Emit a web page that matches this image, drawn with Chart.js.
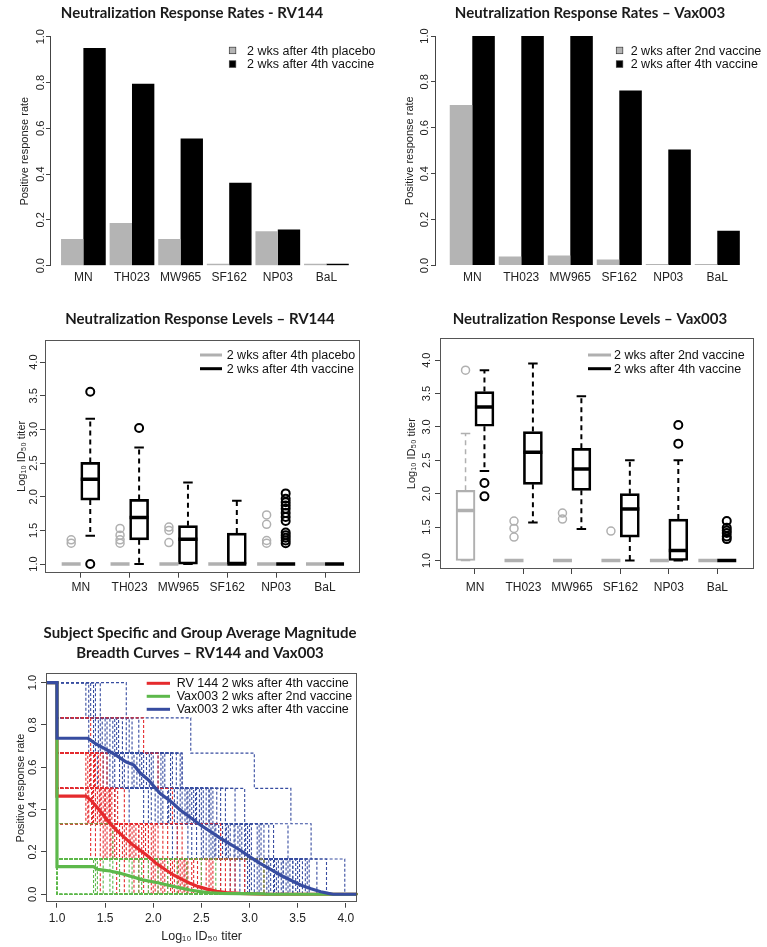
<!DOCTYPE html>
<html>
<head>
<meta charset="utf-8">
<title>Neutralization response - RV144 and Vax003</title>
<script src="https://cdn.jsdelivr.net/npm/chart.js@4.4.1/dist/chart.umd.min.js"></script>
<style>
  html, body { margin: 0; padding: 0; background: #fff; }
  .page { position: relative; width: 767px; height: 947px; overflow: hidden; background: #fff; }
  .page canvas { position: absolute; }
</style>
</head>
<body>
<div class="page">
  <canvas id="rateRV"   width="384" height="290" style="left:0;top:0"></canvas>
  <canvas id="rateVax"  width="380" height="290" style="left:400px;top:0"></canvas>
  <canvas id="levelRV"  width="400" height="310" style="left:0;top:290px"></canvas>
  <canvas id="levelVax" width="380" height="310" style="left:400px;top:290px"></canvas>
  <canvas id="breadth"  width="400" height="347" style="left:0;top:600px"></canvas>
</div>
<script>
// ---------- data ----------
const strains = ['MN', 'TH023', 'MW965', 'SF162', 'NP03', 'BaL'];
const rateTicks = ['0.0', '0.2', '0.4', '0.6', '0.8', '1.0'];
const titerTicks = ['1.0', '1.5', '2.0', '2.5', '3.0', '3.5', '4.0'];

// 1. positive response rates
const rv144Placebo = [0.117, 0.187, 0.117, 0.009, 0.150, 0.009];
const rv144Vaccine = [0.951, 0.795, 0.556, 0.362, 0.158, 0.009];
const vax003Second = [0.699, 0.039, 0.044, 0.026, 0.006, 0.006];
const vax003Fourth = [1.0, 1.0, 1.0, 0.763, 0.505, 0.151];

const rvRateLegend = ['2 wks after 4th placebo', '2 wks after 4th vaccine'];
const vaxRateLegend = ['2 wks after 2nd vaccine', '2 wks after 4th vaccine'];

// 2. response levels (log10 ID50), boxplot summaries per strain
// RV144 placebo
const rvPlbQ1  = [1.0, 1.0, 1.0, 1.0, 1.0, 1.0];
const rvPlbMed = [1.0, 1.0, 1.0, 1.0, 1.0, 1.0];
const rvPlbQ3  = [1.0, 1.0, 1.0, 1.0, 1.0, 1.0];
const rvPlbLo  = [1.0, 1.0, 1.0, 1.0, 1.0, 1.0];
const rvPlbHi  = [1.0, 1.0, 1.0, 1.0, 1.0, 1.0];
const rvPlbOut = [[1.31, 1.36], [1.31, 1.36, 1.43, 1.53], [1.32, 1.50, 1.55], [], [1.31, 1.35, 1.59, 1.73], []];
// RV144 vaccine
const rvVacQ1  = [1.95, 1.36, 1.0, 1.0, 1.0, 1.0];
const rvVacMed = [2.26, 1.69, 1.37, 1.0, 1.0, 1.0];
const rvVacQ3  = [2.51, 1.96, 1.57, 1.46, 1.0, 1.0];
const rvVacLo  = [1.42, 1.0, 1.0, 1.0, 1.0, 1.0];
const rvVacHi  = [3.16, 2.73, 2.21, 1.94, 1.0, 1.0];
const rvVacOut = [[3.56, 1.0], [3.02], [], [], [2.05, 1.97, 1.92, 1.87, 1.82, 1.76, 1.70, 1.64, 1.47, 1.43, 1.39, 1.35, 1.31], []];
// Vax003 2nd vaccine
const vxSecQ1  = [1.0, 1.0, 1.0, 1.0, 1.0, 1.0];
const vxSecMed = [1.75, 1.0, 1.0, 1.0, 1.0, 1.0];
const vxSecQ3  = [2.05, 1.0, 1.0, 1.0, 1.0, 1.0];
const vxSecLo  = [1.0, 1.0, 1.0, 1.0, 1.0, 1.0];
const vxSecHi  = [2.90, 1.0, 1.0, 1.0, 1.0, 1.0];
const vxSecOut = [[3.85], [1.35, 1.48, 1.59], [1.62, 1.71], [1.44], [], []];
// Vax003 4th vaccine
const vxFthQ1  = [3.01, 2.14, 2.05, 1.35, 1.0, 1.0];
const vxFthMed = [3.30, 2.62, 2.37, 1.77, 1.15, 1.0];
const vxFthQ3  = [3.53, 2.93, 2.68, 2.00, 1.62, 1.0];
const vxFthLo  = [2.34, 1.57, 1.47, 1.0, 1.0, 1.0];
const vxFthHi  = [3.85, 3.95, 3.46, 2.50, 2.50, 1.0];
const vxFthOut = [[2.16, 1.96], [], [], [], [3.03, 2.75], [1.32, 1.36, 1.41, 1.45, 1.49, 1.59]];

const rvLevelLegend = ['2 wks after 4th placebo', '2 wks after 4th vaccine'];
const vaxLevelLegend = ['2 wks after 2nd vaccine', '2 wks after 4th vaccine'];

// 3. magnitude breadth curves
const breadthTicksX = ['1.0', '1.5', '2.0', '2.5', '3.0', '3.5', '4.0'];
const breadthTicksY = ['0.0', '0.2', '0.4', '0.6', '0.8', '1.0'];
const breadthLegend = ['RV 144 2 wks after 4th vaccine', 'Vax003 2 wks after 2nd vaccine', 'Vax003 2 wks after 4th vaccine'];

// group averages
const rvAvgX = [0.886, 1.0, 1.0, 1.30, 1.35, 1.41, 1.48, 1.55, 1.62, 1.69, 1.77, 1.86, 1.95, 2.03, 2.12, 2.21, 2.30, 2.38, 2.47, 2.56, 2.66, 2.76, 2.90, 3.05, 3.15, 4.12];
const rvAvgY = [1.0, 1.0, 0.464, 0.464, 0.445, 0.414, 0.375, 0.335, 0.302, 0.272, 0.240, 0.209, 0.178, 0.146, 0.118, 0.091, 0.070, 0.052, 0.036, 0.024, 0.014, 0.008, 0.004, 0.002, 0, 0];
const vxSecAvgX = [0.886, 1.0, 1.0, 1.38, 1.42, 1.50, 1.55, 1.65, 1.72, 1.80, 1.89, 1.98, 2.07, 2.18, 2.28, 2.38, 2.49, 2.60, 2.70, 2.90, 3.15, 3.17, 4.12];
const vxSecAvgY = [1.0, 1.0, 0.130, 0.130, 0.118, 0.113, 0.110, 0.100, 0.091, 0.080, 0.068, 0.060, 0.052, 0.040, 0.030, 0.020, 0.012, 0.006, 0.004, 0.003, 0.002, 0, 0];
const vxFthAvgX = [0.886, 1.0, 1.0, 1.32, 1.40, 1.52, 1.62, 1.72, 1.80, 1.86, 1.95, 2.07, 2.18, 2.28, 2.38, 2.49, 2.60, 2.70, 2.80, 2.90, 3.00, 3.11, 3.22, 3.32, 3.43, 3.53, 3.64, 3.74, 3.82, 3.87, 4.12];
const vxFthAvgY = [1.0, 1.0, 0.737, 0.737, 0.712, 0.682, 0.655, 0.625, 0.610, 0.575, 0.540, 0.477, 0.440, 0.398, 0.365, 0.327, 0.295, 0.264, 0.237, 0.209, 0.178, 0.146, 0.118, 0.091, 0.066, 0.044, 0.026, 0.012, 0.004, 0, 0];

// subject titers [MN, TH023, MW965, SF162, NP03, BaL], 1.0 = no response
const rvSubjects = [
  [2.30, 1.75, 1.40, 1.0, 1.0, 1.0], [2.50, 1.95, 1.55, 1.45, 1.0, 1.0], [2.10, 1.60, 1.0, 1.0, 1.0, 1.0],
  [2.75, 2.05, 1.50, 1.35, 1.0, 1.0], [1.95, 1.40, 1.32, 1.0, 1.0, 1.0], [2.32, 1.85, 1.0, 1.0, 1.0, 1.0],
  [2.20, 1.70, 1.45, 1.0, 1.0, 1.0], [3.15, 2.70, 2.20, 1.90, 2.05, 1.0], [1.80, 1.0, 1.0, 1.0, 1.0, 1.0],
  [2.35, 1.90, 1.35, 1.0, 1.60, 1.0], [2.05, 1.55, 1.0, 1.0, 1.0, 1.0], [2.60, 2.00, 1.52, 1.0, 1.0, 1.0],
  [1.45, 1.0, 1.0, 1.0, 1.0, 1.0], [2.25, 1.65, 1.38, 1.0, 1.0, 1.0], [2.36, 1.35, 1.0, 1.0, 1.0, 1.0],
  [2.15, 1.80, 1.42, 1.30, 1.0, 1.0], [1.70, 1.0, 1.0, 1.0, 1.0, 1.0], [2.55, 1.95, 1.0, 1.0, 1.0, 1.0],
  [2.00, 1.50, 1.33, 1.0, 1.0, 1.0], [2.85, 2.30, 1.57, 1.48, 1.0, 1.0], [1.90, 1.45, 1.0, 1.0, 1.0, 1.0],
  [2.28, 1.72, 1.36, 1.0, 1.0, 1.0], [2.22, 2.10, 1.48, 1.0, 1.0, 1.0], [2.95, 1.85, 1.55, 1.0, 1.0, 1.0],
  [2.18, 1.62, 1.40, 1.0, 1.0, 1.0], [2.42, 1.88, 1.46, 1.38, 1.0, 1.0], [1.85, 1.52, 1.0, 1.0, 1.0, 1.0],
  [2.33, 1.76, 1.34, 1.0, 1.50, 1.0], [2.08, 1.58, 1.0, 1.0, 1.0, 1.0], [2.62, 2.02, 1.54, 1.32, 1.0, 1.0],
  [2.40, 1.82, 1.44, 1.0, 1.0, 1.0], [2.12, 1.68, 1.30, 1.0, 1.0, 1.0], [2.58, 1.98, 1.60, 1.40, 1.0, 1.0],
  [1.98, 1.48, 1.0, 1.0, 1.0, 1.0], [2.26, 1.78, 1.39, 1.0, 1.55, 1.0], [2.70, 2.15, 1.63, 1.43, 1.0, 1.0],
  [1.62, 1.0, 1.0, 1.0, 1.0, 1.0], [2.46, 1.92, 1.50, 1.0, 1.0, 1.0], [2.02, 1.56, 1.37, 1.0, 1.0, 1.0],
  [2.80, 2.25, 1.70, 1.52, 1.35, 1.0]
];
const vxSecSubjects = [
  [1.75, 1.0, 1.0, 1.0, 1.0, 1.0], [2.05, 1.0, 1.0, 1.0, 1.0, 1.0], [1.40, 1.0, 1.0, 1.0, 1.0, 1.0],
  [2.50, 1.58, 1.0, 1.0, 1.0, 1.0], [1.0, 1.0, 1.0, 1.0, 1.0, 1.0], [1.85, 1.0, 1.0, 1.0, 1.0, 1.0],
  [1.55, 1.0, 1.0, 1.0, 1.0, 1.0], [3.15, 1.0, 1.0, 1.0, 1.0, 1.0], [1.0, 1.0, 1.0, 1.0, 1.0, 1.0],
  [2.25, 1.0, 1.0, 1.0, 1.0, 1.0], [1.65, 1.0, 1.0, 1.0, 1.0, 1.0], [1.0, 1.0, 1.0, 1.0, 1.0, 1.0],
  [1.95, 1.0, 1.0, 1.0, 1.0, 1.0], [2.65, 1.0, 1.0, 1.0, 1.0, 1.0], [1.0, 1.0, 1.0, 1.0, 1.0, 1.0],
  [1.38, 1.0, 1.0, 1.0, 1.0, 1.0], [1.48, 1.0, 1.0, 1.0, 1.0, 1.0], [2.35, 1.0, 1.0, 1.0, 1.0, 1.0],
  [1.0, 1.0, 1.0, 1.0, 1.0, 1.0], [1.78, 1.0, 1.0, 1.0, 1.0, 1.0], [1.58, 1.0, 1.0, 1.0, 1.0, 1.0],
  [2.15, 1.0, 1.0, 1.0, 1.0, 1.0], [1.0, 1.0, 1.0, 1.0, 1.0, 1.0], [1.88, 1.0, 1.0, 1.0, 1.0, 1.0],
  [1.42, 1.0, 1.0, 1.0, 1.0, 1.0], [1.0, 1.0, 1.0, 1.0, 1.0, 1.0]
];
const vxFthSubjects = [
  [3.70, 3.40, 2.95, 2.30, 1.85, 1.45], [3.99, 3.64, 3.43, 3.05, 2.39, 1.72], [3.55, 3.10, 2.60, 2.10, 1.60, 1.30],
  [3.35, 2.90, 2.45, 1.90, 1.55, 1.38], [3.80, 3.25, 2.85, 2.30, 1.75, 1.0], [3.45, 2.95, 2.70, 2.20, 1.50, 1.0],
  [3.30, 2.85, 2.50, 2.05, 1.62, 1.0], [3.20, 2.75, 2.35, 1.80, 1.40, 1.0], [3.60, 3.15, 2.62, 2.00, 1.33, 1.0],
  [3.05, 2.60, 2.25, 1.70, 1.45, 1.0], [3.50, 2.98, 2.55, 1.88, 1.0, 1.0], [3.25, 2.80, 2.15, 1.65, 1.0, 1.0],
  [3.00, 2.65, 2.30, 1.52, 1.0, 1.0], [3.40, 3.02, 2.42, 1.78, 1.0, 1.0], [2.90, 2.45, 2.05, 1.42, 1.0, 1.0],
  [3.15, 2.70, 1.95, 1.35, 1.0, 1.0], [3.10, 2.55, 2.18, 1.0, 1.0, 1.0], [2.85, 2.40, 1.90, 1.0, 1.0, 1.0],
  [3.35, 2.20, 1.75, 1.0, 1.0, 1.0], [2.70, 2.25, 1.60, 1.0, 1.0, 1.0], [3.52, 3.08, 2.58, 2.12, 1.68, 1.35],
  [3.28, 2.78, 2.40, 1.98, 1.58, 1.0], [3.62, 3.20, 2.75, 2.28, 1.47, 1.0], [3.12, 2.62, 2.33, 1.83, 1.0, 1.0],
  [3.38, 2.92, 2.48, 1.60, 1.0, 1.0], [2.95, 2.52, 2.10, 1.55, 1.0, 1.0], [3.18, 2.68, 2.02, 1.0, 1.0, 1.0],
  [3.45, 2.88, 2.36, 1.93, 1.43, 1.0], [3.48, 3.00, 2.52, 2.08, 1.64, 1.33], [3.22, 2.72, 2.28, 1.86, 1.0, 1.0],
  [3.58, 3.12, 2.66, 2.24, 1.78, 1.0], [2.98, 2.50, 2.08, 1.58, 1.0, 1.0], [3.33, 2.84, 2.44, 1.96, 1.52, 1.0],
  [3.08, 2.58, 2.16, 1.0, 1.0, 1.0], [3.42, 2.96, 2.58, 2.18, 1.72, 1.40], [2.80, 2.36, 1.98, 1.48, 1.0, 1.0],
  [3.26, 2.76, 2.38, 1.74, 1.38, 1.0], [3.02, 2.64, 2.22, 1.68, 1.0, 1.0]
];

// ---------- style ----------
const GRAY = '#b4b4b4';
const BOX_GRAY = '#b0b0b0';
const BLACK = '#000000';
const RED = '#e52a2d';
const GREEN = '#5db84b';
const BLUE = '#374ca0';
const X_MIN = 0.886, X_MAX = 4.12;   // breadth x range
const BOX_OFF = 0.195;              // gray box left / black box right of the tick

Chart.defaults.font.family = '"Liberation Sans", "DejaVu Sans", Arial, sans-serif';
Chart.defaults.font.size = 12;
Chart.defaults.color = '#222';

// legend drawn inside the plot, R style
const rLegend = {
  id: 'rLegend',
  afterDraw(chart, args, o) {
    const ctx = chart.ctx;
    ctx.save();
    ctx.font = '12.5px "Liberation Sans", "DejaVu Sans", Arial, sans-serif';
    ctx.textBaseline = 'middle';
    o.labels.forEach((text, i) => {
      const y = o.y + i * o.rowH;
      if (o.kind === 'box') {
        ctx.fillStyle = o.colors[i];
        ctx.fillRect(o.x, y - 3.5, 6.5, 6.5);
        ctx.strokeStyle = '#333';
        ctx.lineWidth = 0.7;
        ctx.strokeRect(o.x, y - 3.5, 6.5, 6.5);
      } else {
        ctx.strokeStyle = o.colors[i];
        ctx.lineWidth = 3;
        ctx.beginPath();
        ctx.moveTo(o.x, y);
        ctx.lineTo(o.x + o.len, y);
        ctx.stroke();
      }
      ctx.fillStyle = '#111';
      ctx.fillText(text, o.textX, y + 0.5);
    });
    ctx.restore();
  }
};

// box() around the plot region
const plotFrame = {
  id: 'plotFrame',
  afterDraw(chart) {
    const a = chart.chartArea;
    const ctx = chart.ctx;
    ctx.save();
    ctx.strokeStyle = '#555';
    ctx.lineWidth = 1;
    ctx.strokeRect(Math.round(a.left) + 0.5, Math.round(a.top) + 0.5, Math.round(a.width) - 1, Math.round(a.height) - 1);
    ctx.restore();
  }
};

function fixedTicks(labels) {
  return (scale) => { scale.ticks = labels.map(l => ({ value: Number(l) })); };
}

function titleOpts(text, top, bottom) {
  return { display: true, text, color: '#1a1a1a', font: { family: 'Lato', size: 15, weight: 'bold', lineHeight: 1.3 }, padding: { top, bottom } };
}

function leftAxis(labels, min, max, width, tickLen, pad, title, titlePad, border) {
  return {
    type: 'linear', position: 'left', min, max,
    afterBuildTicks: fixedTicks(labels),
    afterFit: (s) => { s.width = width; },
    ticks: { autoSkip: false, minRotation: 90, maxRotation: 90, crossAlign: 'center', padding: pad, font: { size: 11 }, color: '#222', callback: (v, i) => labels[i] },
    grid: { display: true, drawOnChartArea: false, tickLength: tickLen, color: '#444' },
    border: { display: border, color: '#444' },
    title: { display: true, text: title, font: { size: 11 }, color: '#222', padding: { top: titlePad, bottom: 0 } }
  };
}

function bottomAxis(labels, values, min, max, height, tickLen, pad) {
  return {
    type: 'linear', position: 'bottom', min, max, offset: false,
    afterBuildTicks: (s) => { s.ticks = values.map(v => ({ value: v })); },
    afterFit: (s) => { s.height = height; },
    ticks: { autoSkip: false, maxRotation: 0, padding: pad, font: { size: 12 }, color: '#222', callback: (v, i) => labels[i] },
    grid: { display: tickLen > 0, offset: false, drawOnChartArea: false, tickLength: tickLen, color: '#444' },
    border: { display: false }
  };
}

// empty axis on the right, only keeps room
function rightGap(w) {
  return { type: 'linear', position: 'right', display: true, afterFit: (s) => { s.width = w; }, ticks: { display: false }, grid: { display: false }, border: { display: false } };
}

const base = { responsive: false, animation: false, devicePixelRatio: 1, events: [], layout: { padding: 0 } };
const strainIdx = strains.map((s, i) => i);

function rateBars(values, color, label) {
  return { type: 'bar', label, data: values.map((v, i) => ({ x: i, y: v })), backgroundColor: color, borderWidth: 0, categoryPercentage: 0.92, barPercentage: 1.0 };
}

function boxplotSets(q1, med, q3, lo, hi, out, color, off, lw) {
  const boxes = [], whisk = [], caps = [], meds = [], pts = [];
  strains.forEach((s, i) => {
    const x = i + off;
    if (q3[i] > q1[i]) boxes.push({ x, y: [q1[i], q3[i]] });
    if (hi[i] > q3[i]) whisk.push({ x, y: q3[i] }, { x, y: hi[i] }, { x, y: null });
    if (lo[i] < q1[i]) whisk.push({ x, y: q1[i] }, { x, y: lo[i] }, { x, y: null });
    caps.push({ x, y: lo[i] }, { x, y: hi[i] });
    meds.push({ x, y: med[i] });
    out[i].forEach(v => pts.push({ x, y: v }));
  });
  return [
    { type: 'bar', data: boxes, grouped: false, barThickness: 19, maxBarThickness: 19, borderSkipped: false, borderWidth: lw, borderColor: color, backgroundColor: 'rgba(255,255,255,0)', order: 5 },
    { type: 'line', data: whisk, borderColor: color, borderWidth: lw, borderDash: [5, 4], pointRadius: 0, spanGaps: false, order: 4 },
    { type: 'scatter', data: caps, pointStyle: 'line', pointRadius: 4.75, pointBorderWidth: lw, pointBorderColor: color, order: 3 },
    { type: 'scatter', data: meds, pointStyle: 'line', pointRadius: 9.5, pointBorderWidth: 3.5, pointBorderColor: color, order: 2 },
    { type: 'scatter', data: pts, pointStyle: 'circle', pointRadius: 4, pointBorderWidth: lw, pointBorderColor: color, pointBackgroundColor: 'rgba(255,255,255,0)', order: 1 }
  ];
}

function avgLine(xs, ys, color, order) {
  return { type: 'line', data: xs.map((x, i) => ({ x, y: ys[i] })), borderColor: color, borderWidth: 3.2, pointRadius: 0, tension: 0, fill: false, order };
}

function subjectLine(titers, color, order) {
  // share of the 6 isolates with titer above x, as a step curve
  const sorted = titers.slice().sort((a, b) => a - b);
  const pts = [{ x: X_MIN, y: 1 }];
  sorted.forEach((t, k) => pts.push({ x: t, y: (sorted.length - k - 1) / sorted.length }));
  pts.push({ x: X_MAX, y: 0 });
  return { type: 'line', data: pts, borderColor: color, borderWidth: 1.1, borderDash: [3, 2], pointRadius: 0, stepped: true, fill: false, order };
}

const noPopups = { legend: { display: false }, tooltip: { enabled: false } };
const titerTitle = 'Log\u2081\u2080 ID\u2085\u2080 titer';

// 1. Response rates - RV144
new Chart(document.getElementById('rateRV'), {
  type: 'bar',
  data: { datasets: [rateBars(rv144Placebo, GRAY, rvRateLegend[0]), rateBars(rv144Vaccine, BLACK, rvRateLegend[1])] },
  options: {
    ...base,
    plugins: {
      ...noPopups,
      title: titleOpts('Neutralization Response Rates - RV144', 3.25, 13.95),
      rLegend: { kind: 'box', labels: rvRateLegend, colors: [GRAY, BLACK], x: 229.3, textX: 247, y: 50.7, rowH: 13.6 }
    },
    scales: {
      x: bottomAxis(strains, strainIdx, -0.687, 6.185, 24.3, 0, 5.1),
      y: leftAxis(rateTicks, 0, 1, 50, 4, -2.35, 'Positive response rate', 18.4, true)
    }
  },
  plugins: [rLegend]
});

// 2. Response rates - Vax003
new Chart(document.getElementById('rateVax'), {
  type: 'bar',
  data: { datasets: [rateBars(vax003Second, GRAY, vaxRateLegend[0]), rateBars(vax003Fourth, BLACK, vaxRateLegend[1])] },
  options: {
    ...base,
    plugins: {
      ...noPopups,
      title: titleOpts('Neutralization Response Rates \u2013 Vax003', 3.25, 13.25),
      rLegend: { kind: 'box', labels: vaxRateLegend, colors: [GRAY, BLACK], x: 216.3, textX: 230.7, y: 50.7, rowH: 13.6 }
    },
    scales: {
      x: bottomAxis(strains, strainIdx, -0.761, 6.280, 24.5, 0, 5.3),
      y: leftAxis(rateTicks, 0, 1, 35, 4, -1.65, 'Positive response rate', 3.4, true)
    }
  },
  plugins: [rLegend]
});

// 3. Response levels - RV144
new Chart(document.getElementById('levelRV'), {
  type: 'bar',
  data: {
    datasets: [
      ...boxplotSets(rvVacQ1, rvVacMed, rvVacQ3, rvVacLo, rvVacHi, rvVacOut, BLACK, BOX_OFF, 2),
      ...boxplotSets(rvPlbQ1, rvPlbMed, rvPlbQ3, rvPlbLo, rvPlbHi, rvPlbOut, BOX_GRAY, -BOX_OFF, 1.5)
    ]
  },
  options: {
    ...base,
    plugins: {
      ...noPopups,
      title: titleOpts('Neutralization Response Levels \u2013 RV144', 19.25, 11.25),
      rLegend: { kind: 'line', labels: rvLevelLegend, colors: [BOX_GRAY, BLACK], x: 200, len: 22, textX: 226.7, y: 65, rowH: 13.7 }
    },
    scales: {
      x: bottomAxis(strains, strainIdx, -0.731, 5.716, 27.3, 5, 3.1),
      y: leftAxis(titerTicks, 0.872, 4.328, 45, 5, -1.65, titerTitle, 15.4, false),
      pad: rightGap(40)
    }
  },
  plugins: [plotFrame, rLegend]
});

// 4. Response levels - Vax003
new Chart(document.getElementById('levelVax'), {
  type: 'bar',
  data: {
    datasets: [
      ...boxplotSets(vxFthQ1, vxFthMed, vxFthQ3, vxFthLo, vxFthHi, vxFthOut, BLACK, BOX_OFF, 2),
      ...boxplotSets(vxSecQ1, vxSecMed, vxSecQ3, vxSecLo, vxSecHi, vxSecOut, BOX_GRAY, -BOX_OFF, 1.5)
    ]
  },
  options: {
    ...base,
    plugins: {
      ...noPopups,
      title: titleOpts('Neutralization Response Levels \u2013 Vax003', 19.55, 9.25),
      rLegend: { kind: 'line', labels: vaxLevelLegend, colors: [BOX_GRAY, BLACK], x: 188, len: 23, textX: 214, y: 65, rowH: 13.7 }
    },
    scales: {
      x: bottomAxis(strains, strainIdx, -0.722, 5.757, 31, 5, 6.8),
      y: leftAxis(titerTicks, 0.872, 4.328, 40, 5, 0, titerTitle, 5.4, false),
      pad: rightGap(26)
    }
  },
  plugins: [plotFrame, rLegend]
});

// 5. Magnitude breadth curves
const breadthSets = [
  avgLine(vxFthAvgX, vxFthAvgY, BLUE, 1),
  avgLine(vxSecAvgX, vxSecAvgY, GREEN, 2),
  avgLine(rvAvgX, rvAvgY, RED, 3)
];
vxSecSubjects.forEach(t => breadthSets.push(subjectLine(t, GREEN, 10)));
rvSubjects.forEach(t => breadthSets.push(subjectLine(t, RED, 20)));
vxFthSubjects.forEach(t => breadthSets.push(subjectLine(t, BLUE, 30)));

const breadthX = bottomAxis(breadthTicksX, breadthTicksX.map(Number), X_MIN, X_MAX, 44.3, 5, 3.4);
breadthX.title = { display: true, text: titerTitle, font: { size: 12.5 }, color: '#222', padding: { top: 0, bottom: 2.8 } };

new Chart(document.getElementById('breadth'), {
  type: 'line',
  data: { datasets: breadthSets },
  options: {
    ...base,
    plugins: {
      ...noPopups,
      title: titleOpts(['Subject Specific and Group Average Magnitude', 'Breadth Curves \u2013 RV144 and Vax003'], 23.55, 10.75),
      rLegend: { kind: 'line', labels: breadthLegend, colors: [RED, GREEN, BLUE], x: 146.7, len: 23.3, textX: 176.7, y: 83.3, rowH: 13 }
    },
    scales: {
      x: breadthX,
      y: leftAxis(breadthTicksY, -0.04, 1.044, 46, 5, 0, 'Positive response rate', 14.4, false),
      pad: rightGap(42.7)
    }
  },
  plugins: [plotFrame, rLegend]
});
</script>
</body>
</html>
